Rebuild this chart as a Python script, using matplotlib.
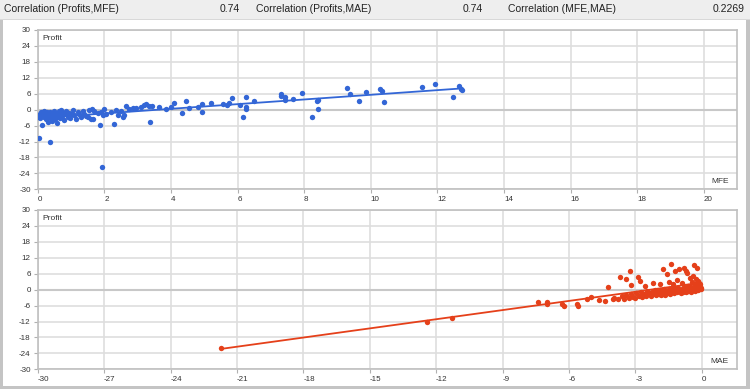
import numpy as np
import matplotlib
matplotlib.use("Agg")
import matplotlib.pyplot as plt
from matplotlib.patches import Rectangle

# header correlations
corr_labels = ["Correlation (Profits,MFE)", "Correlation (Profits,MAE)", "Correlation (MFE,MAE)"]
corr_values = ["0.74", "0.74", "0.2269"]

# top panel: MFE vs profit
mfe = [0.05, 0.37, 1.92, 0.12, 1.86, 2.3, 3.37, 4.34, 4.94, 6.15, 8.23,
       3.42, 3.65, 3.85, 4.0, 4.1, 4.45, 4.55, 4.82, 4.92, 5.2, 5.57, 5.69, 5.73, 5.84,
       6.07, 6.25, 6.25, 6.25, 6.5, 7.3, 7.31, 7.43, 7.43, 7.66, 7.93, 8.43, 8.40, 8.43,
       9.28, 9.38, 9.66, 9.85, 10.28, 10.33, 10.41, 11.55, 11.93, 12.48, 12.65, 12.7, 12.75,
       0.02, 0.04, 0.06, 0.08, 0.1, 0.12, 0.14, 0.16, 0.18, 0.2, 0.22, 0.24, 0.26, 0.28,
       0.3, 0.32, 0.34, 0.36, 0.38, 0.4, 0.42, 0.44, 0.46, 0.48, 0.5, 0.52, 0.54, 0.56,
       0.58, 0.6, 0.62, 0.64, 0.66, 0.68, 0.7, 0.72, 0.75, 0.78, 0.82, 0.86, 0.9, 0.94,
       0.98, 1.02, 1.06, 1.1, 1.15, 1.2, 1.25, 1.3, 1.35, 1.4, 1.45, 1.5, 1.55, 1.6, 1.65,
       1.7, 1.63, 1.8, 2.0, 2.04, 2.35, 2.4, 2.56, 2.6, 2.64, 2.86, 2.96, 3.1, 3.2, 3.25,
       3.35, 2.2, 2.5, 2.75, 1.9, 1.95]
profit_mfe = [-10.8, -12.3, -21.7, -5.8, -5.8, -5.5, -4.6, -1.4, -1.0, -2.6, -2.6,
              1.4, 0.9, 0.1, 0.9, 2.6, 3.2, 0.6, 1.1, 2.0, 2.6, 2.0, 1.6, 2.4, 4.4,
              1.6, 1.1, 0.1, 4.9, 3.4, 5.9, 5.2, 4.7, 3.7, 4.0, 6.2, 3.7, 3.2, 0.3,
              8.1, 5.9, 3.3, 6.8, 7.7, 7.0, 3.0, 8.4, 9.6, 4.8, 9.0, 7.8, 7.4,
              -2.1, -2.8, -1.5, -3.2, -0.8, -2.4, -1.9, -1.2, -2.7, -0.5, -1.6, -2.2, -3.6, -1.0,
              -2.0, -4.8, -1.4, -2.6, -0.7, -3.0, -1.8, -4.2, -1.1, -2.3, -0.4, -3.5, -1.6, -2.0,
              -5.1, -1.3, -2.8, -0.6, -1.9, -3.3, -0.3, -2.4, -1.2, -3.8, -1.6, -0.5, -2.6, -1.1,
              -3.0, -1.5, -0.2, -2.2, -3.4, -0.9, -1.8, -2.9, -0.6, -1.5, -2.4, -2.8, -0.3, -3.6, -3.4,
              -0.6, 0.3, -1.3, 0.3, -1.6, -0.1, -2.1, -2.8, -1.9, 1.4, 0.6, 0.8, 1.1, 1.7, 2.2,
              1.3, -1.0, -0.5, 0.2, -0.8, -2.0]

# bottom panel: MAE vs profit
mae = [-21.7, -12.4, -11.3, -7.41, -7.0, -7.0, -6.32, -6.2, -5.65, -5.6, -5.2, -5.0,
       -4.63, -4.37, -4.22, -4.0, -3.95, -3.69, -3.42, -3.22, -2.9, -2.8, -1.77, -1.59,
       -1.4, -1.22, -1.02, -0.8, -0.72, -0.65, -0.35, -0.21, -0.55, -0.45, -0.3, -0.02,
       -3.2, -2.55, -2.2, -1.9, -1.5, -1.3, -1.1, -0.9, -0.6, -0.1,
       -3.8, -3.6, -3.5, -3.4, -3.3, -3.2, -3.1, -3.0, -2.95, -2.85, -2.75, -2.7, -2.6,
       -2.5, -2.45, -2.4, -2.3, -2.25, -2.2, -2.1, -2.05, -2.0, -1.95, -1.9, -1.85, -1.8,
       -1.75, -1.7, -1.65, -1.6, -1.55, -1.5, -1.45, -1.4, -1.35, -1.3, -1.25, -1.2, -1.15,
       -1.1, -1.05, -1.0, -0.95, -0.9, -0.85, -0.8, -0.75, -0.7, -0.65, -0.6, -0.55, -0.5,
       -0.45, -0.4, -0.35, -0.3, -0.25, -0.2, -0.15, -0.1, -0.05, -0.08, -0.18, -0.4, -0.25]
profit_mae = [-21.8, -12.3, -10.8, -4.5, -4.5, -5.5, -5.4, -6.1, -5.4, -6.1, -3.6, -2.6,
              -3.9, -4.1, 1.1, -3.7, -3.0, 4.9, 4.1, 7.0, 4.9, 3.3, 7.7, 5.9,
              9.6, 7.2, 7.7, 8.1, 6.9, 6.2, 9.3, 8.3, 4.5, 3.0, 2.0, 0.5,
              1.8, 1.5, 2.6, 2.0, 3.0, 2.2, 3.6, 2.6, 1.5, 1.2,
              -3.4, -2.4, -3.6, -2.0, -3.2, -1.5, -2.7, -3.3, -1.2, -2.3, -0.8, -2.9, -1.6,
              -2.4, -0.4, -1.2, -2.5, -0.9, -1.8, -0.2, -2.2, -1.1, -1.6, -0.3, -2.0, -0.9,
              -1.4, 0.2, -1.9, -0.6, -1.2, 0.4, -1.6, -0.2, -0.9, 0.6, -1.4, -0.5, 0.1,
              -1.0, 0.8, -0.3, -1.3, 0.3, -0.7, 1.0, -0.2, -1.0, 0.5, -0.4, 1.2, -0.8,
              0.2, -0.3, 0.9, -0.5, 0.4, 1.6, -0.1, 0.6, 0.1, 2.2, 3.2, 5.0, 4.0]

yticks = np.arange(-30, 31, 6)
mfe_ticks = np.arange(0, 21, 2)
mae_ticks = np.arange(-30, 1, 3)

plt.rcParams['font.family'] = ['Liberation Sans', 'DejaVu Sans']
plt.rcParams['axes.unicode_minus'] = False
fig = plt.figure(figsize=(7.5, 3.89), dpi=100)

# header bar and frame
fig.patches.append(Rectangle((0, 1 - 19/389), 1, 19/389, transform=fig.transFigure,
                             facecolor="#eeeeee", edgecolor="none", zorder=0))
frame_col = "#c4c4c4"
fig.patches.append(Rectangle((0, 0), 3/750, 1 - 19/389, transform=fig.transFigure,
                             facecolor=frame_col, edgecolor="none"))
fig.patches.append(Rectangle((1 - 4/750, 0), 4/750, 1 - 19/389, transform=fig.transFigure,
                             facecolor=frame_col, edgecolor="none"))
fig.patches.append(Rectangle((0, 0), 1, 3/389, transform=fig.transFigure,
                             facecolor=frame_col, edgecolor="none"))
fig.patches.append(Rectangle((0, 1 - 20/389), 1, 1.2/389, transform=fig.transFigure,
                             facecolor="#d8d8d8", edgecolor="none"))

hy = 1 - 9.5/389
label_x = [4, 256, 508]
value_x = [240, 483, 745]
for lab, lx, val, vx in zip(corr_labels, label_x, corr_values, value_x):
    fig.text(lx/750, hy, lab, fontsize=7.5, va="center", ha="left", color="#222222")
    fig.text(vx/750, hy, val, fontsize=7.5, va="center", ha="right", color="#222222")


def style_axes(ax, xticks, xlim, xname):
    ax.set_ylim(-30, 30)
    ax.set_xlim(*xlim)
    ax.set_yticks(yticks)
    ax.set_xticks(xticks)
    ax.grid(True, color="#dedede", linewidth=1.2)
    ax.axhline(0, color="#c8c8c8", linewidth=1.5, zorder=1)
    ax.set_axisbelow(True)
    for s in ax.spines.values():
        s.set_color("#c0c0c0")
        s.set_linewidth(1.2)
    ax.tick_params(axis="both", length=3, width=0.8, color="#b0b0b0",
                   labelsize=5.8, labelcolor="#333333", pad=2)
    for lab in ax.get_xticklabels():
        lab.set_horizontalalignment("left")
    ax.text(5/699, 1 - 8/159, "Profit", transform=ax.transAxes, fontsize=6,
            va="center", ha="left", color="#333333")
    ax.text(1 - 8/699, 8/159, xname, transform=ax.transAxes, fontsize=6,
            va="center", ha="right", color="#333333")


# top panel
ax1 = fig.add_axes([37.7/750, 1 - 189.3/389, 699/750, 159.3/389])
style_axes(ax1, mfe_ticks, (0, 20.99), "MFE")
ax1.scatter(mfe, profit_mfe, s=15, color="#3366d6", zorder=3, linewidths=0)
k, b = np.polyfit(mfe, profit_mfe, 1)
xx = np.array([min(mfe), max(mfe)])
ax1.plot(xx, k*xx + b, color="#3366d6", linewidth=1.3, zorder=3)

# bottom panel
ax2 = fig.add_axes([37.7/750, 1 - 369.3/389, 699/750, 159.3/389])
style_axes(ax2, mae_ticks, (-30, 1.58), "MAE")
ax2.scatter(mae, profit_mae, s=15, color="#e5401a", zorder=3, linewidths=0)
k2, b2 = np.polyfit(mae, profit_mae, 1)
xx2 = np.array([min(mae), max(mae)])
ax2.plot(xx2, k2*xx2 + b2, color="#e5401a", linewidth=1.3, zorder=3)

fig.savefig("out.png", dpi=100)
